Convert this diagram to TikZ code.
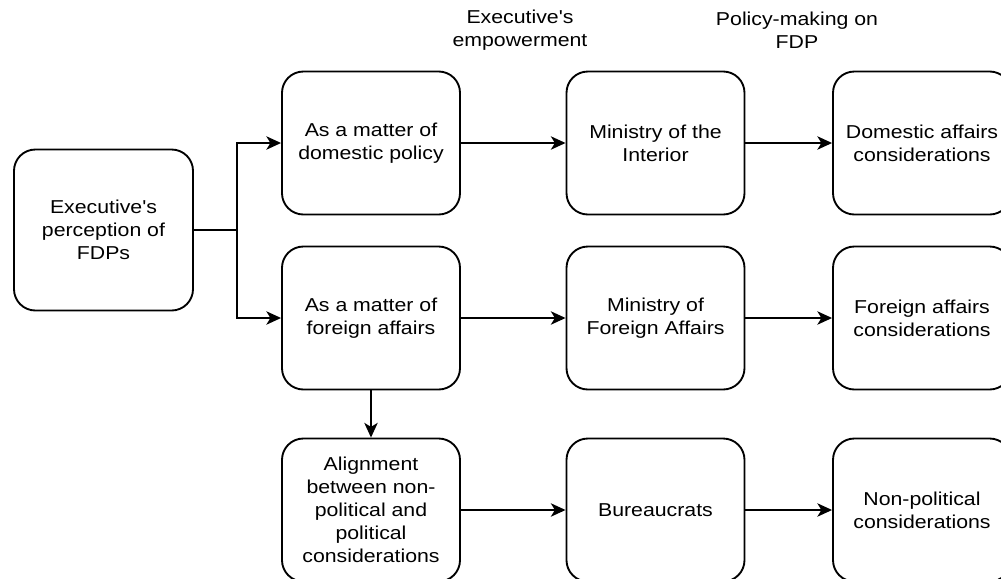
\documentclass[tikz,border=0pt]{standalone}
\usepackage{fontspec}
\setmainfont[FakeStretch=1.14,Ligatures=TeXOff]{Liberation Sans}
\usetikzlibrary{arrows.meta}
\begin{document}
\begin{tikzpicture}[x=0.75pt,y=-0.75pt,
  box/.style={draw,line width=1.4pt,rounded corners=16pt,minimum width=133.5pt,
    minimum height=107.25pt,align=center,inner sep=0pt,
    font=\fontsize{14}{17.25}\selectfont},
  link/.style={line width=1.5pt,-{Stealth[length=11pt,width=10pt,inset=3pt]}},
  head/.style={align=center,font=\fontsize{14}{17.25}\selectfont}]
\clip (0,0) rectangle (1001,579);

% column headings
\node[head] (hemp) at (520,30) {Executive's\\empowerment};
\node[head] (hpol) at (797,30) {Policy-making on\\FDP};

% starting point
\node[box,minimum height=120.75pt,minimum width=134.25pt] (exec) at (103.5,230)
  {Executive's\\perception of\\FDPs};

% framing of the issue
\node[box] (dom) at (371,143) {As a matter of\\domestic policy};
\node[box] (for) at (371,318) {As a matter of\\foreign affairs};
\node[box] (ali) at (371,510) {Alignment\\between non-\\political and\\political\\considerations};

% empowered actors
\node[box] (mint) at (655.5,143) {Ministry of the\\Interior};
\node[box] (mfa) at (655.5,318) {Ministry of\\Foreign Affairs};
\node[box] (bur) at (655.5,510) {Bureaucrats};

% resulting considerations
\node[box] (dcon) at (922,143) {Domestic affairs\\considerations};
\node[box] (fcon) at (922,318) {Foreign affairs\\considerations};
\node[box] (ncon) at (922,510) {Non-political\\considerations};

% connectors
\coordinate (split) at (237,230);
\draw[line width=1.5pt] (exec) -- (split);
\draw[link] (split) |- (dom);
\draw[link] (split) |- (for);
\draw[link] (for) -- (ali);
\draw[link] (dom) -- (mint);
\draw[link] (for) -- (mfa);
\draw[link] (ali) -- (bur);
\draw[link] (mint) -- (dcon);
\draw[link] (mfa) -- (fcon);
\draw[link] (bur) -- (ncon);
\end{tikzpicture}
\end{document}
